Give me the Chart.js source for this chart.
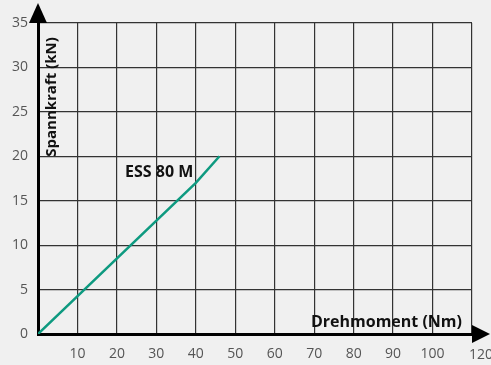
<!DOCTYPE html>
<html>
<head>
<meta charset="utf-8">
<script src="https://cdn.jsdelivr.net/npm/chart.js"></script>
<style>
  html, body { margin: 0; padding: 0; background: #f0f0f0; }
  #wrap { width: 491px; height: 365px; }
</style>
</head>
<body>
<div id="wrap"><canvas id="myChart" width="491" height="365"></canvas></div>
<script>
// ESS 80 M: clamping force over tightening torque
const torque = [0, 40, 46];
const force = [0, 17, 20];
const seriesName = 'ESS 80 M';

const xTickLabels = ['', '10', '20', '30', '40', '50', '60', '70', '80', '90', '100', '120'];
const yTickLabels = ['0', '5', '10', '15', '20', '25', '30', '35'];
const xTitle = 'Drehmoment (Nm)';
const yTitle = 'Spannkraft (kN)';

const FONT = '"Open Sans", "Noto Sans", sans-serif';
const lastX = xTickLabels.length - 1;

// arrows on the axes plus the titles and series label drawn inside the plot
const decorations = {
  id: 'decorations',
  afterDraw(chart) {
    const ctx = chart.ctx;
    const a = chart.chartArea;
    const xs = chart.scales.x, ys = chart.scales.y;
    ctx.save();
    ctx.fillStyle = '#000';
    // y arrow
    ctx.beginPath();
    ctx.moveTo(a.left, 3);
    ctx.lineTo(a.left - 9, a.top);
    ctx.lineTo(a.left + 9, a.top);
    ctx.closePath();
    ctx.fill();
    // x arrow
    ctx.beginPath();
    ctx.moveTo(490, a.bottom);
    ctx.lineTo(a.right, a.bottom - 9);
    ctx.lineTo(a.right, a.bottom + 9);
    ctx.closePath();
    ctx.fill();

    // last x tick label sits a little past its grid line
    ctx.font = '14px ' + FONT;
    ctx.fillStyle = '#555';
    ctx.textAlign = 'center';
    ctx.textBaseline = 'middle';
    ctx.fillText(xTickLabels[lastX], xs.getPixelForValue(xs.max) + 9, 355);

    ctx.font = 'bold 16px ' + FONT;
    ctx.fillStyle = '#111';
    // x title
    ctx.textAlign = 'right';
    ctx.fillText(xTitle, 462, a.bottom - 12);
    // series label
    ctx.textAlign = 'left';
    ctx.fillText(seriesName, 125, ys.getPixelForValue(18.2));
    // y title, rotated
    ctx.font = 'bold 15px ' + FONT;
    ctx.translate(a.left + 14, 97);
    ctx.rotate(-Math.PI / 2);
    ctx.textAlign = 'center';
    ctx.fillText(yTitle, 0, 0);
    ctx.restore();
  }
};

const data = {
  datasets: [{
    label: seriesName,
    data: torque.map((t, i) => ({ x: t, y: force[i] })),
    borderColor: '#0e9a80',
    backgroundColor: '#0e9a80',
    borderWidth: 2.5,
    pointRadius: 0,
    showLine: true,
    tension: 0
  }]
};

const config = {
  type: 'scatter',
  data: data,
  options: {
    responsive: false,
    animation: false,
    layout: { padding: { top: 23, right: 19, left: 0, bottom: 0 } },
    plugins: {
      legend: { display: false },
      tooltip: { enabled: false }
    },
    scales: {
      x: {
        type: 'linear',
        min: 0,
        max: 110,
        afterFit(scale) { scale.height = 31; },
        ticks: {
          stepSize: 10,
          padding: 12,
          color: '#555',
          font: { family: FONT, size: 14 },
          maxRotation: 0,
          autoSkip: false,
          callback: (v, i) => (i === lastX ? '' : xTickLabels[i])
        },
        grid: { color: '#333', lineWidth: 1.2, drawTicks: false },
        border: { color: '#000', width: 3 }
      },
      y: {
        min: 0,
        max: 35,
        afterFit(scale) { scale.width = 38; },
        ticks: {
          stepSize: 5,
          padding: 10,
          color: '#555',
          font: { family: FONT, size: 14 },
          callback: (v, i) => yTickLabels[i]
        },
        grid: { color: '#333', lineWidth: 1.2, drawTicks: false },
        border: { color: '#000', width: 3 }
      }
    }
  },
  plugins: [decorations]
};

const myChart = new Chart(document.getElementById('myChart'), config);
</script>
</body>
</html>
